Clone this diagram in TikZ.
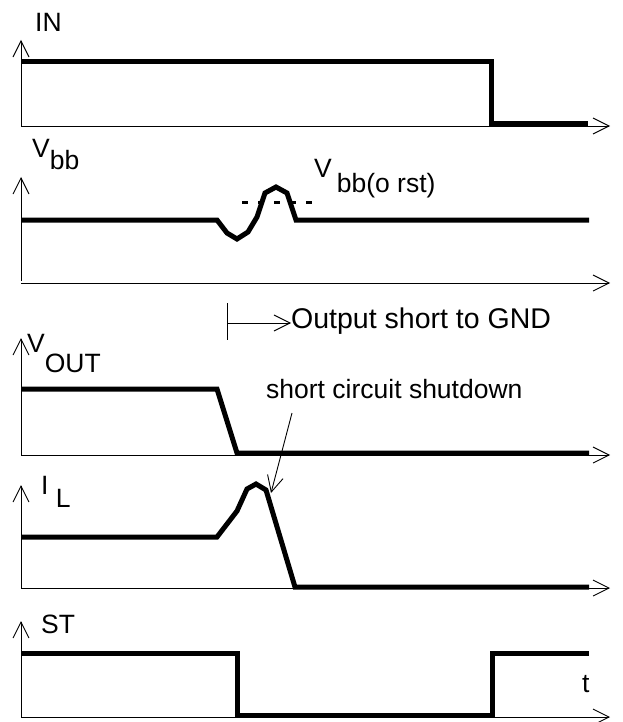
\documentclass[tikz,border=0pt]{standalone}
\usepackage{fontspec}
\setmainfont{Liberation Sans}
\usetikzlibrary{arrows.meta}
\begin{document}
\begin{tikzpicture}[x=1pt,y=-1pt]
        \tikzstyle{axis_style} = [draw=black, line width=0.9pt, -{Straight Barb[length=16pt,width=16pt]}]
        \tikzstyle{tick_style} = [draw=black, line width=0.9pt]
        \tikzstyle{signal_style} = [draw=black, line width=5pt]
        \tikzstyle{level_style} = [draw=black, line width=3pt, dash pattern=on 6pt off 10pt]
        \tikzstyle{label_style} = [inner sep=0pt, anchor=base west, font=\fontsize{26.5pt}{30pt}\selectfont]
        \useasboundingbox (0,0) rectangle (622,722);
        % axes
        \draw[axis_style] (21,126) -- (21,40);
        \draw[axis_style] (21,126) -- (610,126);
        \draw[axis_style] (21,281) -- (21,177);
        \draw[axis_style] (21,283) -- (610,283);
        \draw[axis_style] (21,455) -- (21,338);
        \draw[axis_style] (21,455) -- (610,455);
        \draw[axis_style] (21,588) -- (21,485);
        \draw[axis_style] (21,588) -- (610,588);
        \draw[axis_style] (21,717) -- (21,621);
        \draw[axis_style] (21,717) -- (610,717);
        % labels
        \node[label_style] (in) at (35,32) {IN};
        \node[label_style] (vbb) at (32,158) {V\raisebox{-12pt}{bb}};
        \node[label_style] (vrst) at (314,178) {V\hspace{5pt}\raisebox{-15pt}{bb(o rst)}};
        \node[label_style] (vout) at (27,352) {V\raisebox{-20pt}{OUT}};
        \node[label_style] (il) at (41,494) {I \raisebox{-13pt}{L}};
        \node[label_style] (st) at (41,633) {ST};
        \node[label_style] (t) at (582,692) {t};
        \node[label_style, font=\fontsize{28.5pt}{32pt}\selectfont] (gnd) at (291,328) {Output short to GND};
        \node[label_style] (sc) at (266,398) {short circuit shutdown};
        % signals
        \draw[signal_style] (21,62) -- (491,62) -- (491,124) -- (588,124);
        \draw[signal_style] (21,220) -- (217,220) -- (227,233) -- (237,239) -- (248,232) -- (257,217)
              -- (265,193) -- (276,187) -- (287,193) -- (296,220) -- (589,220);
        \draw[level_style] (242,202) -- (312,202);
        \draw[signal_style] (21,389) -- (217,389) -- (237,453) -- (589,453);
        \draw[signal_style] (21,537) -- (217,537) -- (237,511) -- (247,489) -- (256,484) -- (266,490)
              -- (295,587) -- (589,587);
        \draw[signal_style] (21,653) -- (237,653) -- (237,715) -- (492,715) -- (492,653) -- (589,653);
        % short to GND marker
        \coordinate (gnd_tick) at (227,323);
        \draw[tick_style] (227,303) -- (227,340);
        \draw[axis_style] (gnd_tick) -- (gnd_tick -| gnd.west);
        % pointer to shutdown
        \coordinate (sc_tail) at (292,413);
        \coordinate (il_peak) at (271,493);
        \draw[axis_style] (sc_tail) -- (il_peak);
      \end{tikzpicture}
\end{document}
